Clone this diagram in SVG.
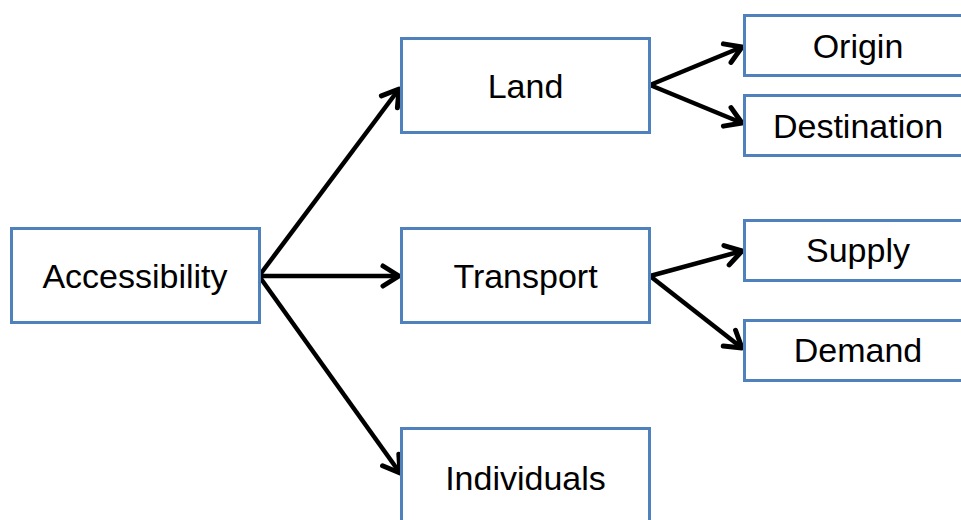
<svg xmlns="http://www.w3.org/2000/svg" width="961" height="520" viewBox="0 0 961 520">
  <defs>
    <marker id="arr" markerUnits="userSpaceOnUse" markerWidth="30" markerHeight="30" viewBox="-20 -15 30 30" refX="0" refY="0" orient="auto">
      <path d="M-16,-10 L0,0 L-16,10" fill="none" stroke="#000" stroke-width="5" stroke-linecap="round" stroke-linejoin="round"/>
    </marker>
    <style>
      .box { fill: #fff; stroke: #4F81BD; stroke-width: 3; }
      .lbl { font-family: "Liberation Sans", Arial, sans-serif; font-size: 34px; fill: #000; text-anchor: middle; }
      .con { stroke: #000; stroke-width: 4.5; fill: none; marker-end: url(#arr); }
    </style>
  </defs>
  <rect width="961" height="520" fill="#fff"/>
  <g id="connectors">
    <line class="con" x1="259" y1="276" x2="399" y2="89"/>
    <line class="con" x1="259" y1="276" x2="399" y2="276"/>
    <line class="con" x1="259" y1="276" x2="400" y2="473"/>
    <line class="con" x1="650" y1="85" x2="742" y2="47"/>
    <line class="con" x1="650" y1="85" x2="742" y2="123"/>
    <line class="con" x1="650" y1="276" x2="742" y2="251"/>
    <line class="con" x1="650" y1="276" x2="742" y2="348"/>
  </g>
  <g id="accessibility">
    <rect class="box" x="11.5" y="228.5" width="248" height="94"/>
    <text class="lbl" x="135" y="288">Accessibility</text>
  </g>
  <g id="land">
    <rect class="box" x="401.5" y="38.5" width="248" height="94"/>
    <text class="lbl" x="525.5" y="98">Land</text>
  </g>
  <g id="transport">
    <rect class="box" x="401.5" y="228.5" width="248" height="94"/>
    <text class="lbl" x="525.5" y="288">Transport</text>
  </g>
  <g id="individuals">
    <rect class="box" x="401.5" y="428.5" width="248" height="100"/>
    <text class="lbl" x="525.5" y="490">Individuals</text>
  </g>
  <g id="origin">
    <rect class="box" x="744.5" y="15.5" width="230" height="60"/>
    <text class="lbl" x="858" y="58">Origin</text>
  </g>
  <g id="destination">
    <rect class="box" x="744.5" y="95.5" width="230" height="60"/>
    <text class="lbl" x="858" y="138">Destination</text>
  </g>
  <g id="supply">
    <rect class="box" x="744.5" y="220.5" width="230" height="60"/>
    <text class="lbl" x="858" y="262">Supply</text>
  </g>
  <g id="demand">
    <rect class="box" x="744.5" y="320.5" width="230" height="60"/>
    <text class="lbl" x="858" y="362">Demand</text>
  </g>
</svg>
